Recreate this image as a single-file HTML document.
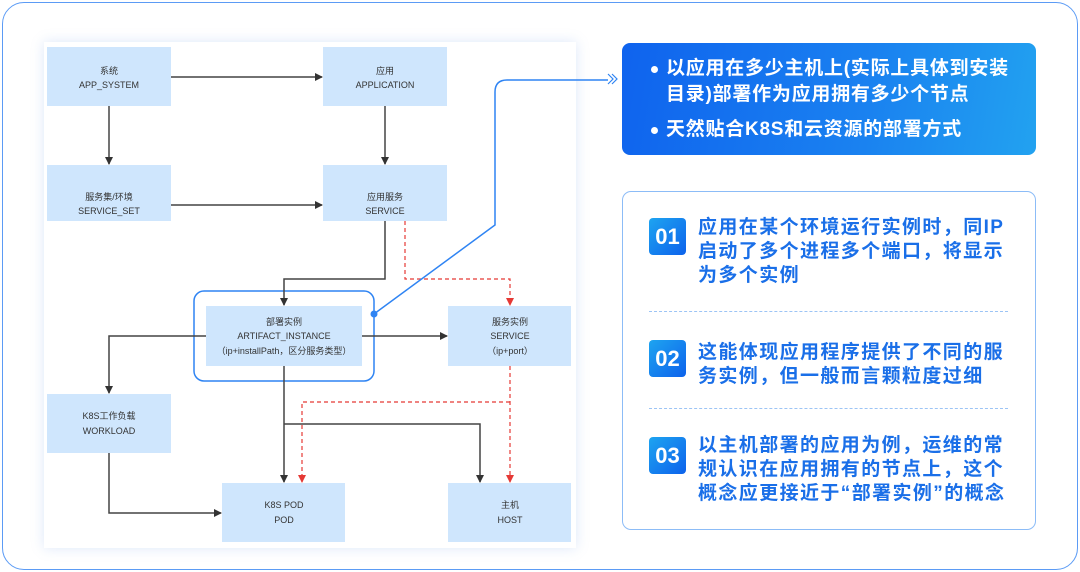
<!DOCTYPE html>
<html><head><meta charset="utf-8"><style>
*{margin:0;padding:0;box-sizing:border-box}
body{width:1080px;height:572px;background:#fff;position:relative;overflow:hidden;font-family:"Liberation Sans","Noto Sans CJK SC",sans-serif}
.outer{position:absolute;left:2px;top:2px;width:1076px;height:568px;border:1.5px solid #5b9bf5;border-radius:22px}
.panel{position:absolute;left:44px;top:42px;width:532px;height:506px;background:#fff;box-shadow:0 0 12px rgba(120,160,230,.25)}
svg{position:absolute;left:0;top:0}
.top{position:absolute;left:622px;top:43px;width:414px;height:112px;border-radius:8px;background:linear-gradient(100deg,#0f63ee 0%,#1a82f0 60%,#22a2f0 100%);color:#fff;font-weight:bold;font-size:19px;line-height:26px;white-space:nowrap}
.top .b{position:absolute;left:44px;letter-spacing:0.75px}
.top .b:before{content:"";position:absolute;left:-15px;top:10px;width:7px;height:7px;border-radius:50%;background:#fff}
.bot{position:absolute;left:622px;top:191px;width:414px;height:339px;border:1.5px solid #8cbcf7;border-radius:9px}
.badge{position:absolute;left:649px;width:37px;height:37px;border-radius:4px;background:linear-gradient(135deg,#1ea4f0,#0d62ec);color:#fff;font-weight:bold;font-size:22px;line-height:37px;text-align:center}
.it{position:absolute;left:698px;color:#1a6fe8;font-weight:bold;font-size:19px;line-height:23.8px;letter-spacing:1.4px;white-space:nowrap}
.sep{position:absolute;left:649px;width:359px;border-top:1.5px dashed #9cc4f5}
</style></head><body>
<div class="outer"></div>
<div class="panel"></div>
<svg width="1080" height="572" viewBox="0 0 1080 572">
<defs>
<marker id="a" markerWidth="8" markerHeight="8" refX="7" refY="4" orient="auto" markerUnits="userSpaceOnUse"><path d="M0,0 L8,4 L0,8 z" fill="#333"/></marker>
<marker id="r" markerWidth="8" markerHeight="8" refX="7" refY="4" orient="auto" markerUnits="userSpaceOnUse"><path d="M0,0 L8,4 L0,8 z" fill="#e53935"/></marker>
</defs>
<g fill="#cfe6fd">
<rect x="47" y="47" width="124" height="59"/>
<rect x="323" y="47" width="124" height="59"/>
<rect x="47" y="165" width="124" height="56"/>
<rect x="323" y="165" width="124" height="56"/>
<rect x="206" y="306" width="156" height="60"/>
<rect x="448" y="306" width="123" height="60"/>
<rect x="47" y="394" width="124" height="59"/>
<rect x="222" y="483" width="123" height="59"/>
<rect x="448" y="483" width="123" height="59"/>
</g>
<rect x="194" y="291" width="180" height="90" rx="10" fill="none" stroke="#2f84f3" stroke-width="1.5"/>
<g stroke="#444" stroke-width="1.5" fill="none" marker-end="url(#a)">
<path d="M171 77H322"/>
<path d="M109 106V164"/>
<path d="M385 106V164"/>
<path d="M171 205H322"/>
<path d="M385 221V279H284V305"/>
<path d="M206 336H109V393"/>
<path d="M362 336H447"/>
<path d="M284 366V482"/>
<path d="M284 424H480V482"/>
<path d="M109 453V513H221"/>
</g>
<g stroke="#e53935" stroke-width="1.2" fill="none" stroke-dasharray="4,3" marker-end="url(#r)">
<path d="M405 221V279H510V305"/>
<path d="M510 366V482"/>
<path d="M510 402H302V482"/>
</g>
<path d="M374 314L495 225V92Q495 80 507 80H608" stroke="#2f84f3" stroke-width="1.5" fill="none"/>
<circle cx="374" cy="314" r="3.5" fill="#2f84f3"/>
<path d="M608 74L613 79L608 84M612 74L617 79L612 84" stroke="#2f84f3" stroke-width="1.2" fill="none"/>
<g font-size="9" fill="#333" text-anchor="middle" font-family="Liberation Sans,Noto Sans CJK SC,sans-serif">
<text x="109" y="74">系统</text><text x="109" y="88">APP_SYSTEM</text>
<text x="385" y="74">应用</text><text x="385" y="88">APPLICATION</text>
<text x="109" y="200">服务集/环境</text><text x="109" y="214">SERVICE_SET</text>
<text x="385" y="200">应用服务</text><text x="385" y="214">SERVICE</text>
<text x="284" y="325">部署实例</text><text x="284" y="339">ARTIFACT_INSTANCE</text><text x="284" y="354">（ip+installPath，区分服务类型）</text>
<text x="510" y="325">服务实例</text><text x="510" y="339">SERVICE</text><text x="510" y="354">（ip+port）</text>
<text x="109" y="419">K8S工作负载</text><text x="109" y="434">WORKLOAD</text>
<text x="284" y="508">K8S POD</text><text x="284" y="523">POD</text>
<text x="510" y="508">主机</text><text x="510" y="523">HOST</text>
</g>
</svg>
<div class="top">
<div class="b" style="top:13px">以应用在多少主机上(实际上具体到安装<br>目录)部署作为应用拥有多少个节点</div>
<div class="b" style="top:74px">天然贴合K8S和云资源的部署方式</div>
</div>
<div class="bot"></div>
<div class="badge" style="top:218px">01</div>
<div class="it" style="top:216px">应用在某个环境运行实例时，同IP<br>启动了多个进程多个端口，将显示<br>为多个实例</div>
<div class="sep" style="top:311px"></div>
<div class="badge" style="top:340px">02</div>
<div class="it" style="top:341px">这能体现应用程序提供了不同的服<br>务实例，但一般而言颗粒度过细</div>
<div class="sep" style="top:408px"></div>
<div class="badge" style="top:437px">03</div>
<div class="it" style="top:434px">以主机部署的应用为例，运维的常<br>规认识在应用拥有的节点上，这个<br>概念应更接近于“部署实例”的概念</div>
</body></html>
